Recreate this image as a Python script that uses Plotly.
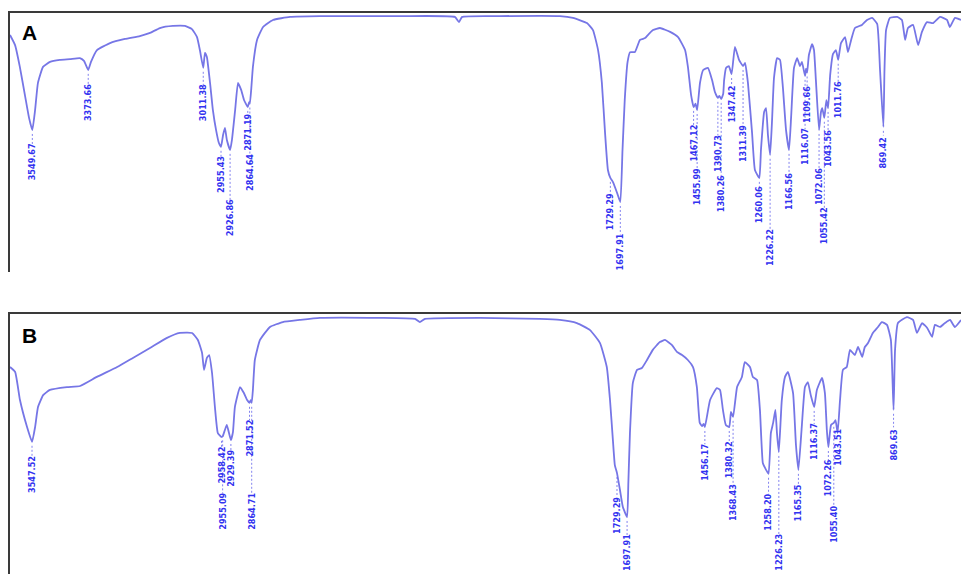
import numpy as np
import plotly.graph_objects as go

# ---------------- Spectrum A ----------------
a_wavenumber = [3620, 3604, 3589, 3573, 3560, 3549.67, 3541, 3532, 3516, 3494, 3463, 3431, 3400, 3387,
                3373.66, 3365, 3346, 3305, 3258, 3211, 3179, 3148, 3107, 3069, 3047, 3031, 3022, 3011.38,
                3006, 3000, 2990, 2981, 2971, 2962, 2955.43, 2949, 2943, 2937, 2926.86, 2921, 2911, 2902,
                2892, 2883, 2871.19, 2867, 2864.64, 2860, 2855, 2842, 2823, 2792, 2738, 2644, 2392, 2219,
                2206, 2196, 2077, 1888, 1847, 1803, 1784, 1768, 1756, 1746, 1737, 1729.29, 1721, 1708,
                1697.91, 1691, 1684, 1675, 1667, 1652, 1636, 1620, 1611, 1595, 1573, 1541, 1516, 1494,
                1485, 1475, 1467.12, 1461, 1455.99, 1447, 1437, 1422, 1409, 1400, 1390.73, 1386, 1380.26,
                1374, 1371, 1365, 1356, 1347.42, 1337, 1324, 1311.39, 1305, 1296, 1283, 1274, 1260.06,
                1255, 1245, 1239, 1233, 1226.22, 1220, 1214, 1204, 1195, 1186, 1176, 1166.56, 1160, 1151,
                1141, 1132, 1126, 1116.07, 1113, 1109.66, 1104, 1094, 1088, 1082, 1072.06, 1066, 1062,
                1055.42, 1049, 1043.56, 1037, 1028, 1019, 1011.76, 1003, 990, 981, 971, 959, 937, 921,
                905, 889, 880, 869.42, 866, 861, 849, 826, 811, 801, 792, 776, 760, 748, 732, 713, 691,
                669, 660, 644, 625]
a_transmittance = [91.5, 87.6, 79.2, 68.3, 59.5, 54.8, 62.5, 73.0, 79.2, 81.1, 81.9, 82.2, 82.6, 81.5,
                   78.0, 81.1, 85.7, 88.4, 90.0, 91.1, 92.3, 94.2, 95.0, 95.0, 93.8, 90.7, 85.7, 78.8,
                   84.6, 83.0, 73.0, 62.5, 54.8, 49.8, 48.3, 52.9, 55.6, 51.0, 47.1, 51.0, 62.5, 73.0,
                   70.3, 66.4, 63.7, 65.6, 65.0, 71.0, 79.2, 89.6, 94.6, 97.3, 98.5, 98.8, 98.8, 98.5,
                   96.5, 98.5, 98.8, 98.8, 98.1, 96.1, 93.4, 85.7, 73.0, 53.7, 39.4, 36.3, 34.7, 30.5,
                   27.0, 47.1, 66.4, 81.1, 84.9, 84.9, 89.6, 90.3, 91.5, 93.4, 94.2, 92.7, 90.7, 85.7,
                   79.2, 68.3, 63.7, 65.0, 62.5, 73.0, 78.0, 78.8, 74.1, 69.5, 67.2, 68.0, 66.8,
                   68.7, 74.1, 78.8, 79.5, 76.4, 86.9, 81.9, 79.5, 80.7, 73.0, 53.7, 39.4, 36.3,
                   47.1, 61.8, 63.3, 52.9, 45.2, 58.7, 74.9, 82.6, 81.9, 71.4, 54.8, 47.1, 59.8, 78.8,
                   82.6, 79.5, 81.1, 75.7, 78.5, 77.0, 83.8, 88.0, 85.7, 74.1, 54.8, 61.8, 63.3,
                   59.5, 66.4, 63.3, 76.1, 84.2, 85.7, 81.9, 88.4, 90.7, 84.9, 89.6, 94.2, 95.4, 97.3,
                   98.1, 95.8, 78.0, 56.0, 78.0, 93.4, 98.1, 98.5, 97.3, 89.6, 94.2, 95.4, 87.6, 92.7,
                   96.5, 96.1, 98.5, 97.3, 94.6, 98.1, 97.3]

# labelled bands of A and the height at which each label sits
a_peaks = [3549.67, 3373.66, 3011.38, 2955.43, 2926.86, 2871.19, 2864.64, 1729.29, 1697.91,
           1467.12, 1455.99, 1390.73, 1380.26, 1347.42, 1311.39, 1260.06, 1226.22, 1166.56,
           1116.07, 1109.66, 1072.06, 1055.42, 1043.56, 1011.76, 869.42]
a_label_level = [42.5, 65.3, 65.3, 37.5, 20.8, 54.1, 38.6, 23.2, 7.7,
                 49.8, 32.8, 45.9, 30.1, 64.9, 49.4, 25.9, 9.3, 30.9,
                 48.3, 64.5, 32.8, 17.8, 47.5, 66.4, 45.9]

# ---------------- Spectrum B ----------------
b_wavenumber = [3616, 3600, 3585, 3563, 3547.52, 3538, 3529, 3513, 3492, 3439, 3398, 3346, 3283, 3234,
                3181, 3128, 3088, 3050, 3032, 3019, 3013, 3004, 2997, 2988, 2979, 2970, 2958.42, 2955.09,
                2948, 2942, 2929.39, 2923, 2917, 2901, 2889, 2879, 2871.52, 2868, 2864.71, 2861, 2855,
                2839, 2808, 2768, 2715, 2653, 2466, 2357, 2342, 2326, 2155, 1969, 1907, 1854, 1813, 1782,
                1761, 1751, 1742, 1736, 1729.29, 1720, 1711, 1697.91, 1694, 1689, 1680, 1667, 1652, 1636,
                1618, 1596, 1580, 1559, 1543, 1527, 1509, 1493, 1481, 1472, 1465, 1460, 1456.17, 1440,
                1419, 1409, 1400, 1391, 1380.32, 1375, 1368.43, 1356, 1341, 1332, 1316, 1307, 1294, 1285,
                1276, 1269, 1258.20, 1251, 1244, 1237, 1232, 1226.23, 1217, 1207, 1198, 1182, 1173,
                1165.35, 1155, 1145, 1136, 1127, 1116.37, 1108, 1092, 1083, 1077, 1072.26, 1064, 1055.40,
                1050, 1043.51, 1036, 1027, 1015, 1005, 990, 980, 967, 959, 949, 934, 918, 906, 890, 878,
                869.63, 865, 856, 828, 809, 797, 781, 765, 750, 741, 725, 710, 694, 679, 660]
b_transmittance = [79.6, 77.7, 66.9, 56.5, 50.8, 56.5, 64.2, 68.8, 70.8, 71.9, 72.3, 75.8, 79.6, 83.1,
                   86.9, 90.8, 92.7, 92.7, 90.0, 85.0, 78.5, 83.1, 84.2, 77.3, 64.2, 54.2, 52.7, 52.9,
                   55.4, 57.3, 51.5, 54.6, 64.2, 71.9, 69.6, 66.9, 65.8, 66.9, 65.8, 70.8, 82.3,
                   90.0, 95.0, 96.9, 97.7, 98.5, 98.5, 98.1, 96.9, 98.1, 98.5, 98.1, 97.7, 96.5, 93.8, 88.8,
                   79.6, 66.9, 51.5, 41.9, 38.8, 32.3, 25.8, 21.9, 35.0, 54.2, 73.5, 78.5, 79.2, 82.3,
                   86.2, 89.2, 90.0, 88.1, 85.4, 84.2, 82.3, 79.6, 71.9, 58.1, 56.9, 57.7, 56.5, 66.9,
                   71.5, 70.8, 63.1, 57.3, 56.5, 62.3, 60.4, 71.9, 75.8, 81.5, 79.6, 75.8, 74.6, 63.1,
                   42.7, 40.8, 38.5, 54.2, 58.1, 63.1, 54.2, 46.9, 66.9, 75.8, 77.7, 69.6, 49.6,
                   40.0, 56.5, 71.9, 73.8, 68.8, 64.2, 70.8, 75.4, 69.6, 55.4, 48.8, 57.3, 58.1,
                   59.2, 54.2, 66.9, 78.5, 79.6, 86.2, 84.2, 87.3, 83.5, 87.3, 88.8, 92.7, 95.0, 96.9, 95.8, 90.0,
                   63.1, 86.2, 96.5, 98.8, 97.7, 92.7, 96.5, 94.6, 91.2, 95.8, 95.0, 96.5, 97.7, 95.0, 97.7]

b_peaks = [3547.52, 2958.42, 2955.09, 2929.39, 2871.52, 2864.71, 1729.29, 1697.91, 1456.17,
           1380.32, 1368.43, 1258.20, 1226.23, 1165.35, 1116.37, 1072.26, 1055.40, 1043.51, 869.63]
b_label_level = [38.1, 41.9, 24.2, 40.8, 52.3, 24.2, 22.7, 8.1, 43.1,
                 43.8, 27.3, 23.8, 8.5, 27.3, 50.8, 36.9, 19.2, 48.8, 49.6]

CURVE = "rgb(118,118,230)"
LEADER = "rgba(100,100,235,0.8)"
LABEL = "rgb(50,50,240)"
FRAME = "#3a3a3a"
LABEL_FONT = dict(family="Liberation Sans Narrow, DejaVu Sans Condensed, Arial, sans-serif",
                  size=9, color=LABEL)
HALF_LABEL = 6.0  # half the length of a rotated label, in axis units

fig = go.Figure()


def add_panel(wn, tr, peaks, levels, xref, yref):
    fig.add_trace(go.Scatter(x=wn, y=tr, mode="lines", xaxis=xref, yaxis=yref,
                             line=dict(color=CURVE, width=1.8, shape="spline", smoothing=0.4),
                             hoverinfo="skip", showlegend=False))
    order = np.argsort(wn)
    xs_sorted = np.asarray(wn, float)[order]
    ys_sorted = np.asarray(tr, float)[order]
    lx, ly = [], []
    for p, lev in zip(peaks, levels):
        t_peak = float(np.interp(p, xs_sorted, ys_sorted))
        lx += [p, p, None]
        ly += [t_peak - 1.5, lev + HALF_LABEL + 0.8, None]
        fig.add_annotation(x=p, y=lev, xref=xref, yref=yref, text=f"<b>{p:.2f}</b>",
                           textangle=-90, showarrow=False, font=LABEL_FONT,
                           xanchor="center", yanchor="middle", borderpad=0)
    fig.add_trace(go.Scatter(x=lx, y=ly, mode="lines", xaxis=xref, yaxis=yref,
                             line=dict(color=LEADER, width=1, dash="2px,2px"),
                             hoverinfo="skip", showlegend=False))


add_panel(a_wavenumber, a_transmittance, a_peaks, a_label_level, "x", "y")
add_panel(b_wavenumber, b_transmittance, b_peaks, b_label_level, "x2", "y2")

axis_common = dict(showline=True, linecolor=FRAME, linewidth=1.6, showticklabels=False,
                   ticks="", showgrid=False, zeroline=False, fixedrange=True)

fig.update_layout(
    width=961, height=574,
    margin=dict(l=10, r=0, t=13, b=0),
    paper_bgcolor="white", plot_bgcolor="white",
    xaxis=dict(domain=[0, 1], range=[3620, 625], anchor="y", side="top", **axis_common),
    yaxis=dict(domain=[0.5383, 1], range=[0, 100], anchor="x", **axis_common),
    xaxis2=dict(domain=[0, 1], range=[3616, 660], anchor="y2", side="top", **axis_common),
    yaxis2=dict(domain=[0, 0.4635], range=[0, 100], anchor="x2", **axis_common),
)

for letter, ypos in (("A", 0.9661), ("B", 0.426)):
    fig.add_annotation(text=f"<b>{letter}</b>", xref="paper", yref="paper", x=0.0205, y=ypos,
                       xanchor="center", yanchor="middle", showarrow=False,
                       font=dict(family="Arial, Liberation Sans, sans-serif", size=21, color="black"))

fig.write_html("out.html")
